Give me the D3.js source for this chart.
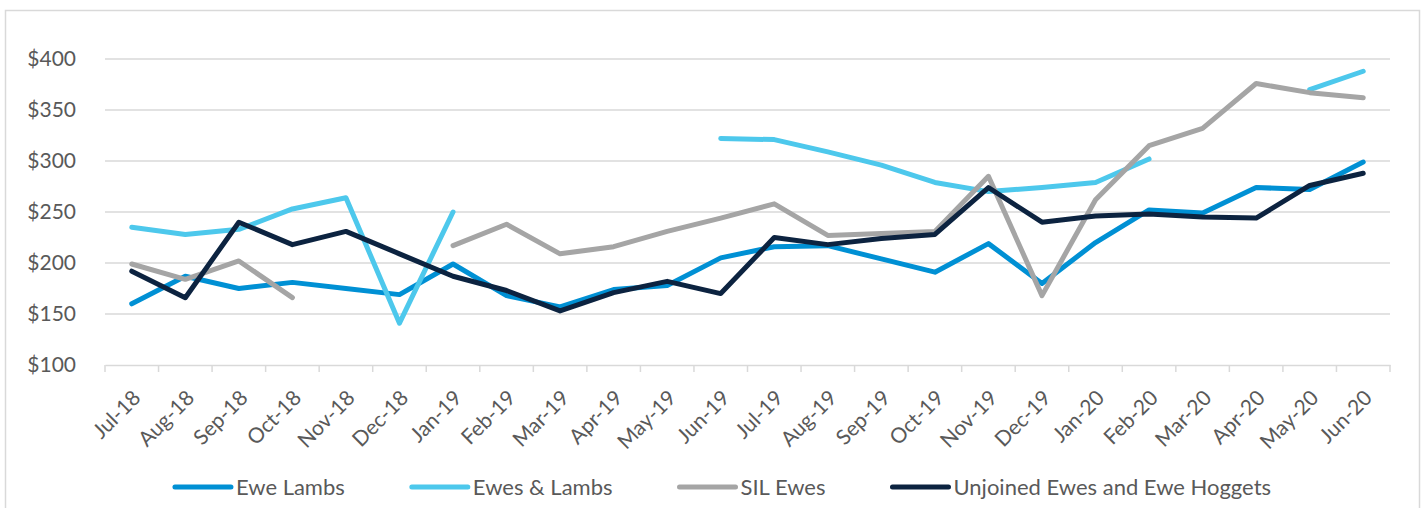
<!DOCTYPE html>
<html>
<head>
<meta charset="utf-8">
<script src="https://cdn.jsdelivr.net/npm/d3@7"></script>
<style>
  html, body { margin: 0; padding: 0; background: #ffffff; }
  svg { display: block; }
  text { font-family: Lato, "Open Sans", sans-serif; fill: #595959; }
</style>
</head>
<body>
<svg id="chart" width="1424" height="508"></svg>
<script>
const categories = ["Jul-18","Aug-18","Sep-18","Oct-18","Nov-18","Dec-18","Jan-19","Feb-19","Mar-19","Apr-19","May-19","Jun-19","Jul-19","Aug-19","Sep-19","Oct-19","Nov-19","Dec-19","Jan-20","Feb-20","Mar-20","Apr-20","May-20","Jun-20"];
const eweLambs = [160,187,175,181,175,169,199,168,157,174,178,205,216,217,204,191,219,180,220,252,249,274,272,299];
const ewesAndLambs = [235,228,233,253,264,141,250,null,null,null,null,322,321,309,296,279,270,274,279,302,null,null,370,388];
const silEwes = [199,184,202,166,null,null,217,238,209,216,231,244,258,227,229,231,285,168,262,315,332,376,367,362];
const unjoined = [192,166,240,218,231,209,187,173,153,171,182,170,225,218,224,228,274,240,246,248,245,244,276,288];
const yTicks = [100,150,200,250,300,350,400];
const seriesNames = ["Ewe Lambs","Ewes & Lambs","SIL Ewes","Unjoined Ewes and Ewe Hoggets"];
const seriesColors = ["#0090D4","#4DC8EC","#A5A5A5","#0C2340"];

const series = [eweLambs, ewesAndLambs, silEwes, unjoined];

(function () {
const svg = d3.select("#chart");
const mLeft = 105, mRight = 1390, mTop = 59, mBottom = 365;

// outer frame
svg.append("rect")
  .attr("x", 5.5).attr("y", 10.5).attr("width", 1414).attr("height", 520)
  .attr("fill", "none").attr("stroke", "#D9D9D9").attr("stroke-width", 1.5);

const x = d3.scaleBand().domain(categories).range([mLeft, mRight]).padding(0);
const y = d3.scaleLinear().domain([100, 400]).range([mBottom, mTop]);

// gridlines
svg.append("g").selectAll("line").data(yTicks.filter(t => t !== 100)).join("line")
  .attr("x1", mLeft).attr("x2", mRight)
  .attr("y1", d => y(d)).attr("y2", d => y(d))
  .attr("stroke", "#D9D9D9").attr("stroke-width", 1.5);

// y axis labels
const yAxis = d3.axisLeft(y).tickValues(yTicks).tickFormat(d => "$" + d).tickSize(0).tickPadding(0);
const gy = svg.append("g").attr("transform", `translate(${mLeft - 29},0)`).call(yAxis);
gy.select(".domain").remove();
gy.selectAll("text").attr("font-size", 21).style("font-family", "Lato, sans-serif").attr("fill", "#595959");

// x axis
const xAxis = d3.axisBottom(x).tickSize(0).tickFormat(d => d);
const gx = svg.append("g").attr("transform", `translate(0,${mBottom})`).call(xAxis);
gx.select(".domain").attr("stroke", "#D9D9D9").attr("stroke-width", 1.5);
gx.selectAll(".tick line").remove();
gx.selectAll("text")
  .attr("font-size", 21)
  .style("font-family", "Lato, sans-serif")
  .attr("fill", "#595959")
  .attr("text-anchor", "end")
  .attr("y", 0).attr("dy", "0.35em")
  .attr("transform", "translate(5,29) rotate(-45)");

// tick marks at band boundaries
const boundaries = categories.map(c => x(c)).concat([x(categories[categories.length - 1]) + x.bandwidth()]);
svg.append("g").selectAll("line").data(boundaries).join("line")
  .attr("x1", d => d).attr("x2", d => d)
  .attr("y1", mBottom).attr("y2", mBottom + 7)
  .attr("stroke", "#D9D9D9").attr("stroke-width", 1.5);

// lines
const line = d3.line()
  .defined(d => d != null)
  .x((d, i) => x(categories[i]) + x.bandwidth() / 2)
  .y(d => y(d));

series.forEach((s, k) => {
  svg.append("path")
    .datum(s)
    .attr("d", line)
    .attr("fill", "none")
    .attr("stroke", seriesColors[k])
    .attr("stroke-width", 5)
    .attr("stroke-linecap", "round")
    .attr("stroke-linejoin", "round");
});

// legend
const legend = svg.append("g");
const sampleLen = 56, sampleGap = 5, itemGap = 67, legendY = 487;
let cx = 0;
seriesNames.forEach((name, k) => {
  const g = legend.append("g").attr("transform", `translate(${cx},0)`);
  g.append("line").attr("x1", 0).attr("x2", sampleLen).attr("y1", legendY).attr("y2", legendY)
    .attr("stroke", seriesColors[k]).attr("stroke-width", 5).attr("stroke-linecap", "round");
  const t = g.append("text").attr("x", sampleLen + sampleGap).attr("y", legendY).attr("dy", "0.35em")
    .attr("font-size", 22).text(name);
  const w = t.node().getComputedTextLength();
  cx += sampleLen + sampleGap + w + itemGap;
});
const totalW = cx - itemGap;
legend.attr("transform", `translate(${723 - totalW / 2},0)`);
})();
</script>
</body>
</html>
